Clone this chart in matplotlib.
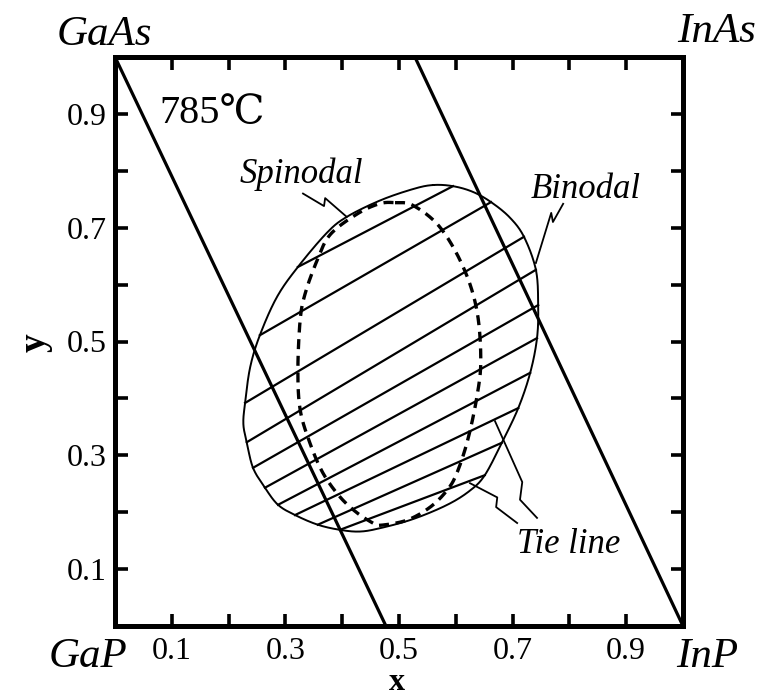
import numpy as np
import matplotlib
matplotlib.use("Agg")
import matplotlib.pyplot as plt

# Ga(1-x)In(x)P(1-y)As(y) miscibility gap at 785 C
binodal_x = [0.560, 0.595, 0.630, 0.662, 0.695, 0.720, 0.741, 0.745, 0.743, 0.731,
             0.710, 0.681, 0.651, 0.625, 0.585, 0.525, 0.467, 0.431, 0.396, 0.357,
             0.317, 0.287, 0.264, 0.243, 0.232, 0.226, 0.229, 0.238, 0.255, 0.285,
             0.322, 0.373, 0.408, 0.467, 0.525]
binodal_y = [0.775, 0.773, 0.763, 0.745, 0.718, 0.684, 0.626, 0.564, 0.506, 0.445,
             0.383, 0.322, 0.265, 0.238, 0.213, 0.188, 0.172, 0.166, 0.169, 0.178,
             0.195, 0.213, 0.243, 0.278, 0.323, 0.355, 0.392, 0.455, 0.511, 0.578,
             0.631, 0.691, 0.719, 0.748, 0.768]

spinodal_x = [0.493, 0.525, 0.572, 0.613, 0.637, 0.644, 0.637, 0.621, 0.602, 0.585,
              0.555, 0.514, 0.467, 0.454, 0.426, 0.396, 0.366, 0.343, 0.326, 0.322,
              0.326, 0.335, 0.356, 0.379, 0.426, 0.465]
spinodal_y = [0.744, 0.739, 0.701, 0.631, 0.555, 0.467, 0.402, 0.327, 0.269, 0.239,
              0.209, 0.186, 0.177, 0.181, 0.199, 0.227, 0.269, 0.322, 0.380, 0.450,
              0.538, 0.585, 0.643, 0.688, 0.724, 0.742]

# tie lines: (x, y) of the two coexisting phases
tie_x1 = [0.322, 0.255, 0.229, 0.232, 0.243, 0.264, 0.287, 0.317, 0.357, 0.396]
tie_y1 = [0.631, 0.511, 0.392, 0.323, 0.278, 0.243, 0.213, 0.195, 0.178, 0.169]
tie_x2 = [0.595, 0.662, 0.720, 0.741, 0.745, 0.743, 0.731, 0.710, 0.681, 0.651]
tie_y2 = [0.773, 0.745, 0.684, 0.626, 0.564, 0.506, 0.445, 0.383, 0.322, 0.265]

# straight composition lines
line1_x = [0.0, 0.477]
line1_y = [1.0, 0.0]
line2_x = [0.528, 1.0]
line2_y = [1.0, 0.0]

ticks = [0.1, 0.2, 0.3, 0.4, 0.5, 0.6, 0.7, 0.8, 0.9]
tick_labels = ["0.1", "", "0.3", "", "0.5", "", "0.7", "", "0.9"]

# zigzag leader lines (data coordinates)
lead_spin_x = [0.331, 0.368, 0.370, 0.408]
lead_spin_y = [0.760, 0.738, 0.752, 0.719]
lead_bin_x = [0.789, 0.771, 0.768, 0.741]
lead_bin_y = [0.742, 0.710, 0.726, 0.638]
lead_tieA_x = [0.708, 0.671, 0.673, 0.625]
lead_tieA_y = [0.181, 0.209, 0.226, 0.251]
lead_tieB_x = [0.743, 0.713, 0.717, 0.669]
lead_tieB_y = [0.190, 0.222, 0.253, 0.360]


def closed_spline(xs, ys, n=24):
    pts = np.column_stack([xs, ys])
    P = np.vstack([pts[-1], pts, pts[0], pts[1]])
    out = []
    t = np.linspace(0, 1, n, endpoint=False)[:, None]
    for i in range(1, len(pts) + 1):
        p0, p1, p2, p3 = P[i - 1], P[i], P[i + 1], P[i + 2]
        seg = 0.5 * ((2 * p1) + (-p0 + p2) * t
                     + (2 * p0 - 5 * p1 + 4 * p2 - p3) * t ** 2
                     + (-p0 + 3 * p1 - 3 * p2 + p3) * t ** 3)
        out.append(seg)
    out.append(pts[:1])
    return np.vstack(out)


serif = ["Liberation Serif", "DejaVu Serif"]
plt.rcParams["font.family"] = serif

fig = plt.figure(figsize=(7.61, 6.98), dpi=100)
ax = fig.add_axes([115 / 761, 1 - 626 / 698, 568 / 761, 569 / 698])
ax.set_xlim(0, 1)
ax.set_ylim(0, 1)

ax.plot(line1_x, line1_y, color="black", lw=2.3, solid_capstyle="butt")
ax.plot(line2_x, line2_y, color="black", lw=2.3, solid_capstyle="butt")

b = closed_spline(binodal_x, binodal_y)
ax.plot(b[:, 0], b[:, 1], color="black", lw=1.4)

s = closed_spline(spinodal_x, spinodal_y)
ax.plot(s[:, 0], s[:, 1], color="black", lw=2.4, linestyle=(0, (3, 2)))

for x1, y1, x2, y2 in zip(tie_x1, tie_y1, tie_x2, tie_y2):
    ax.plot([x1, x2], [y1, y2], color="black", lw=1.6)

for lx, ly in [(lead_spin_x, lead_spin_y), (lead_bin_x, lead_bin_y),
               (lead_tieA_x, lead_tieA_y), (lead_tieB_x, lead_tieB_y)]:
    ax.plot(lx, ly, color="black", lw=1.3)

ax.text(0.079, 0.884, "785℃", fontsize=29, ha="left", va="baseline")
ax.text(0.220, 0.779, "Spinodal", fontsize=25, style="italic", ha="left", va="baseline")
ax.text(0.731, 0.752, "Binodal", fontsize=25, style="italic", ha="left", va="baseline")
ax.text(0.708, 0.128, "Tie line", fontsize=25, style="italic", ha="left", va="baseline")

ax.set_xticks(ticks)
ax.set_xticklabels(tick_labels)
ax.set_yticks(ticks)
ax.set_yticklabels(tick_labels)
ax.tick_params(direction="in", length=9, width=2.6, top=True, right=True,
               labelsize=23, color="black")
ax.tick_params(axis="x", pad=8)
ax.tick_params(axis="y", pad=6)
for sp in ax.spines.values():
    sp.set_linewidth(3.6)

fig.text(57 / 761, 1 - 45 / 698, "GaAs", fontsize=31, style="italic", ha="left", va="baseline")
fig.text(677 / 761, 1 - 42 / 698, "InAs", fontsize=31, style="italic", ha="left", va="baseline")
fig.text(49 / 761, 1 - 667 / 698, "GaP", fontsize=31, style="italic", ha="left", va="baseline")
fig.text(676 / 761, 1 - 667 / 698, "InP", fontsize=31, style="italic", ha="left", va="baseline")
fig.text(397 / 761, 0.5 / 698, "x", fontsize=23, weight="bold", ha="center", va="bottom")
fig.text(35 / 761, 1 - 343 / 698, "y", fontsize=27, weight="bold", rotation=90,
         ha="center", va="center")

fig.savefig("out.png", dpi=100)
